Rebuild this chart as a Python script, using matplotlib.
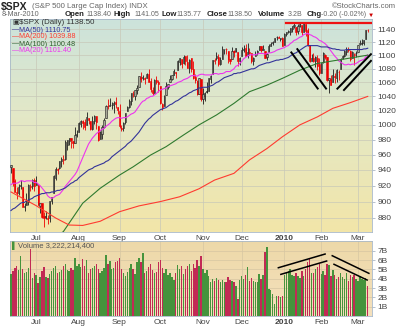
import numpy as np
import matplotlib
matplotlib.use("Agg")
import matplotlib.pyplot as plt
from matplotlib.ticker import FixedLocator, FixedFormatter, NullLocator

plt.rcParams['font.family'] = ['Liberation Sans', 'DejaVu Sans']

# daily sessions 12-Jun-2009 .. 8-Mar-2010
opens = [943.44, 942.45, 925.60, 911.90, 910.90, 919.96, 918.13, 893.46, 896.31, 899.45, 918.84, 919.86, 927.15,
         920.82, 921.24, 894.27, 898.60, 881.90, 881.28, 880.03, 879.57, 900.77, 910.15, 930.17, 940.56, 942.07, 951.97, 953.40, 954.07, 972.16, 978.63, 981.48, 977.66, 976.01, 986.80,
         990.22, 1001.41, 1005.41, 1004.06, 999.83, 1008.89, 1005.77, 994.00, 1005.86, 1012.23, 998.18, 980.62, 986.88, 996.41, 1009.06, 1026.59, 1026.63, 1027.35, 1027.81, 1031.62, 1025.21,
         1019.52, 996.07, 996.12, 1003.84, 1018.67, 1025.36, 1032.99, 1043.92, 1040.15, 1049.03, 1053.99, 1067.87, 1066.60, 1067.14, 1066.35, 1072.69, 1062.56, 1049.48, 1045.38, 1063.69, 1061.02,
         1054.91, 1029.71, 1026.87, 1042.02, 1053.65, 1060.03, 1065.28, 1071.63, 1074.96, 1078.68, 1090.36, 1094.67, 1088.22, 1098.64, 1090.36, 1080.96, 1095.62, 1080.36, 1067.54, 1061.51, 1043.69, 1065.41,
         1036.18, 1040.92, 1047.14, 1047.30, 1064.95, 1072.31, 1091.86, 1096.04, 1098.31, 1087.59, 1094.13, 1109.22, 1109.44, 1106.44, 1094.66, 1094.86, 1105.83, 1106.49, 1105.47, 1091.07,
         1098.89, 1109.03, 1110.59, 1100.43, 1105.52, 1103.04, 1091.07, 1098.69, 1103.96, 1107.84, 1114.11, 1108.61, 1106.36, 1097.86, 1105.31, 1114.51, 1118.84, 1121.08, 1127.53, 1128.55, 1125.53, 1126.60,
         1116.56, 1132.66, 1135.71, 1136.27, 1140.52, 1145.96, 1143.81, 1137.31, 1145.68, 1147.72, 1136.03, 1147.95, 1138.68, 1115.49, 1092.40, 1095.80, 1091.94, 1096.93, 1087.61,
         1073.89, 1090.05, 1100.67, 1097.25, 1064.12, 1065.51, 1060.06, 1069.68, 1067.10, 1075.95, 1079.13, 1096.14, 1099.03, 1105.49, 1110.00, 1107.49, 1095.89, 1101.24, 1103.10,
         1105.36, 1117.01, 1119.36, 1119.12, 1125.12, 1138.40]
highs = [946.30, 942.45, 928.00, 918.40, 922.00, 927.10, 918.13, 898.70, 910.85, 921.42, 922.00, 927.99, 930.01,
         931.92, 921.24, 898.72, 898.60, 886.80, 887.86, 883.57, 901.05, 905.84, 933.95, 943.96, 941.89, 951.62, 956.53, 959.83, 979.42, 979.79, 982.49, 982.35, 977.76, 996.68, 993.18,
         1003.61, 1007.12, 1006.64, 1008.00, 1018.00, 1010.12, 1005.77, 1012.78, 1013.14, 1012.60, 998.18, 991.20, 999.61, 1008.92, 1027.59, 1035.82, 1037.75, 1032.47, 1033.33, 1039.47, 1025.21,
         1028.45, 1000.34, 1003.43, 1016.48, 1026.07, 1036.34, 1044.14, 1048.18, 1049.74, 1056.04, 1068.76, 1074.77, 1071.52, 1067.28, 1073.81, 1080.15, 1066.29, 1053.47, 1065.13, 1069.62, 1063.40,
         1054.91, 1030.60, 1042.58, 1060.55, 1058.02, 1070.67, 1071.51, 1079.46, 1075.30, 1093.17, 1096.56, 1094.67, 1100.17, 1098.64, 1101.36, 1095.21, 1095.83, 1091.75, 1072.48, 1063.26, 1066.83, 1065.41,
         1052.18, 1046.36, 1061.00, 1066.65, 1071.48, 1093.19, 1096.42, 1105.37, 1101.97, 1097.79, 1113.69, 1110.52, 1111.10, 1106.44, 1094.66, 1112.38, 1107.56, 1111.18, 1105.47, 1097.24,
         1112.28, 1115.58, 1117.28, 1119.13, 1110.72, 1103.04, 1097.04, 1106.25, 1108.50, 1114.76, 1114.11, 1116.21, 1106.36, 1103.74, 1117.68, 1120.27, 1121.58, 1126.48, 1130.38, 1130.38, 1126.42, 1127.64,
         1133.87, 1136.63, 1139.19, 1142.46, 1145.39, 1149.74, 1143.81, 1148.40, 1150.41, 1147.77, 1150.45, 1147.95, 1141.58, 1115.49, 1102.97, 1103.69, 1099.51, 1100.22, 1096.45,
         1089.38, 1104.73, 1102.72, 1097.25, 1067.13, 1071.20, 1079.28, 1073.67, 1080.04, 1077.81, 1095.67, 1101.03, 1108.24, 1112.42, 1112.29, 1108.58, 1106.42, 1103.50, 1107.24,
         1116.11, 1123.46, 1125.64, 1123.73, 1139.38, 1141.05]
lows = [935.70, 919.65, 911.60, 903.80, 908.30, 915.80, 893.04, 888.90, 896.31, 896.27, 913.03, 916.18, 912.86,
        920.82, 896.42, 886.36, 879.93, 869.32, 878.45, 872.81, 875.32, 896.50, 910.15, 927.45, 934.65, 940.99, 943.22, 947.75, 953.27, 965.95, 972.29, 969.35, 968.65, 976.01, 982.85,
        990.22, 996.68, 994.31, 992.49, 999.83, 1000.99, 992.40, 993.36, 1000.82, 994.60, 978.51, 980.62, 980.62, 996.39, 1009.06, 1022.48, 1026.21, 1021.57, 1016.20, 1023.13, 1014.62,
        996.28, 991.97, 992.25, 1001.65, 1018.67, 1023.97, 1028.04, 1038.40, 1035.00, 1043.42, 1052.87, 1061.20, 1064.27, 1057.46, 1066.35, 1060.39, 1045.85, 1041.17, 1045.38, 1057.83, 1046.47,
        1029.45, 1019.95, 1025.92, 1042.02, 1050.10, 1060.03, 1063.00, 1071.63, 1066.71, 1078.68, 1086.41, 1081.53, 1086.48, 1086.16, 1080.77, 1074.31, 1075.49, 1065.23, 1059.32, 1042.19, 1043.69, 1033.38,
        1029.38, 1033.94, 1045.15, 1047.30, 1059.32, 1072.31, 1087.40, 1093.81, 1084.90, 1085.33, 1094.13, 1102.19, 1102.70, 1088.40, 1086.81, 1094.86, 1097.63, 1104.75, 1083.74, 1086.25,
        1098.89, 1105.29, 1098.74, 1096.52, 1100.83, 1088.61, 1085.89, 1098.69, 1101.34, 1107.84, 1105.35, 1107.96, 1095.88, 1093.88, 1105.31, 1114.51, 1116.00, 1121.08, 1123.51, 1126.08, 1121.94, 1114.81,
        1116.56, 1129.66, 1133.95, 1131.32, 1136.22, 1142.02, 1131.77, 1133.18, 1143.80, 1131.39, 1135.77, 1129.25, 1114.84, 1090.18, 1092.40, 1089.86, 1083.11, 1078.46, 1071.59,
        1073.89, 1087.96, 1093.97, 1062.78, 1044.50, 1056.51, 1060.06, 1059.34, 1060.59, 1062.97, 1079.13, 1094.72, 1097.48, 1100.80, 1105.38, 1092.18, 1095.50, 1086.02, 1097.56,
        1105.36, 1116.51, 1116.58, 1116.66, 1125.12, 1135.77]
closes = [946.21, 923.72, 911.97, 910.71, 918.37, 921.23, 893.04, 895.10, 900.94, 920.26, 918.90, 927.23, 919.32,
          923.33, 896.42, 898.72, 881.03, 879.56, 882.68, 879.13, 901.05, 905.84, 932.68, 940.74, 940.38, 951.13, 954.58, 954.07, 976.29, 979.26, 982.18, 979.62, 975.15, 986.75, 987.48,
          1002.63, 1005.65, 1002.72, 997.08, 1010.48, 1007.10, 994.35, 1005.81, 1012.73, 1004.09, 979.73, 989.67, 996.46, 1007.37, 1026.13, 1025.57, 1028.00, 1028.12, 1030.98, 1028.93, 1020.62,
          998.04, 994.75, 1003.24, 1016.40, 1025.39, 1033.37, 1044.14, 1042.73, 1049.34, 1052.63, 1068.76, 1065.49, 1068.30, 1064.66, 1071.66, 1060.87, 1050.78, 1044.38, 1062.98, 1060.61, 1057.08,
          1029.85, 1025.21, 1040.46, 1054.72, 1057.58, 1065.48, 1071.49, 1076.19, 1073.19, 1092.02, 1096.56, 1087.68, 1097.91, 1091.06, 1081.40, 1092.91, 1079.60, 1066.95, 1063.41, 1042.63, 1066.11, 1036.19,
          1042.88, 1045.41, 1046.50, 1066.63, 1069.30, 1093.08, 1093.01, 1098.51, 1087.24, 1093.48, 1109.30, 1110.32, 1109.80, 1094.90, 1091.38, 1106.24, 1105.65, 1110.63, 1091.49, 1095.63,
          1108.86, 1109.24, 1099.92, 1105.98, 1103.25, 1091.94, 1095.95, 1102.35, 1106.41, 1114.11, 1107.93, 1109.18, 1096.08, 1102.47, 1114.05, 1118.02, 1120.59, 1126.48, 1127.78, 1126.20, 1126.42, 1115.10,
          1132.99, 1136.52, 1137.14, 1141.69, 1144.98, 1146.98, 1136.22, 1145.68, 1148.46, 1136.03, 1150.23, 1138.04, 1116.48, 1091.76, 1096.78, 1092.17, 1097.50, 1084.53, 1073.87,
          1089.19, 1103.32, 1097.28, 1063.11, 1066.19, 1056.74, 1070.52, 1068.13, 1078.47, 1075.51, 1094.87, 1099.51, 1106.75, 1109.17, 1108.01, 1094.60, 1105.24, 1102.94, 1104.49,
          1115.71, 1118.31, 1118.79, 1122.97, 1138.70, 1138.50]
prior_close = 944.89
# volume, billions of shares
volumes = [4.5, 4.8, 5.2, 5.4, 4.9, 6.4, 5.0, 4.6, 4.7, 5.2, 7.2, 4.1, 4.6,
           4.4, 3.5, 4.2, 4.8, 5.3, 4.2, 4.1, 4.5, 4.8, 5.2, 5.4, 4.6, 4.7, 4.9, 5.4, 5.6, 4.9, 4.8, 5.1, 4.9, 6.2, 5.4,
           5.6, 5.3, 6.1, 5.4, 6.0, 4.6, 5.0, 5.2, 5.4, 5.6, 5.0, 4.6, 4.8, 5.2, 6.6, 5.6, 5.9, 5.0, 5.2, 5.8, 5.9,
           6.2, 5.0, 4.6, 4.3, 4.7, 5.2, 5.6, 5.0, 4.5, 5.8, 6.2, 5.8, 6.8, 4.6, 4.8, 5.3, 5.6, 4.9, 4.6, 4.7, 5.8,
           6.0, 5.1, 4.6, 5.0, 4.4, 4.6, 4.2, 3.9, 4.6, 5.5, 5.0, 5.4, 4.5, 5.0, 5.4, 5.6, 4.8, 5.6, 5.2, 6.0, 5.4, 6.4,
           5.0, 4.6, 4.9, 4.3, 3.7, 4.0, 3.8, 4.1, 3.9, 3.7, 3.9, 3.6, 3.7, 4.2, 3.9, 3.8, 3.6, 3.2, 1.8, 3.9,
           4.3, 4.0, 4.4, 5.3, 3.8, 4.1, 3.8, 3.7, 3.6, 4.5, 4.0, 4.4, 6.9, 7.4, 2.9, 2.8, 2.4, 1.3, 2.1, 2.2, 2.0, 2.1,
           4.4, 4.7, 4.8, 5.0, 4.4, 4.3, 4.6, 4.3, 4.1, 4.8, 4.3, 5.0, 5.8, 6.2, 4.6, 4.6, 5.0, 5.3, 5.6,
           4.5, 4.8, 4.4, 5.6, 5.5, 4.3, 4.9, 4.4, 4.0, 4.2, 4.6, 4.2, 4.0, 4.6, 3.8, 4.4, 4.2, 4.4, 4.0,
           3.8, 4.3, 4.0, 3.9, 4.1, 3.2]

ma20 = [921, 923, 923, 923, 924, 926, 926, 925, 926, 926, 926, 926, 924, 924, 922, 920, 917, 914, 911, 907, 905, 904, 905, 907, 908, 909, 912, 915, 919, 922, 925, 928, 931, 934, 938,
        944, 950, 956, 962, 968, 974, 978, 982, 985, 988, 990, 992, 994, 995, 998, 1000, 1002, 1005, 1007, 1009, 1010, 1010, 1009, 1010, 1010, 1011, 1013, 1015, 1016, 1018, 1022, 1026,
        1030, 1033, 1034, 1037, 1038, 1040, 1040, 1042, 1044, 1047, 1049, 1050, 1051, 1052, 1054, 1055, 1056, 1057, 1058, 1060, 1061, 1062, 1064, 1065, 1066, 1068, 1070, 1070, 1070, 1069,
        1071, 1072, 1072, 1071, 1071, 1071, 1071, 1072, 1073, 1073, 1072, 1073, 1073, 1074, 1076, 1076, 1076, 1078, 1080, 1084, 1085, 1088, 1091, 1095, 1097, 1099, 1101, 1101, 1101, 1101,
        1102, 1103, 1103, 1103, 1102, 1103, 1104, 1104, 1105, 1106, 1108, 1109, 1110, 1111, 1112, 1114, 1115, 1118, 1120, 1123, 1124, 1126, 1128, 1129, 1132, 1133, 1134, 1132, 1131, 1129,
        1128, 1126, 1123, 1122, 1120, 1118, 1115, 1111, 1107, 1103, 1099, 1096, 1092, 1090, 1088, 1086, 1086, 1087, 1086, 1087, 1087, 1088, 1090, 1092, 1093, 1094, 1098, 1101]
ma50 = [889, 891, 892, 894, 896, 898, 899, 899, 901, 902, 903, 904, 906, 907, 908, 909, 910, 910, 911, 911, 911, 912, 912, 913, 914, 914, 915, 916, 917, 919, 921, 923, 924, 926, 927,
        930, 932, 934, 936, 938, 940, 941, 942, 944, 945, 946, 947, 948, 949, 951, 952, 954, 957, 959, 961, 963, 965, 967, 969, 971, 974, 976, 978, 981, 984, 987, 990, 994, 998, 1002,
        1005, 1008, 1010, 1013, 1015, 1017, 1019, 1021, 1022, 1023, 1024, 1026, 1028, 1029, 1031, 1033, 1034, 1036, 1038, 1040, 1041, 1043, 1045, 1046, 1048, 1049, 1050, 1052, 1052, 1053,
        1053, 1053, 1054, 1055, 1056, 1058, 1060, 1061, 1063, 1065, 1067, 1068, 1069, 1070, 1071, 1073, 1073, 1074, 1074, 1075, 1076, 1077, 1078, 1079, 1080, 1080, 1081, 1083, 1085, 1086,
        1087, 1088, 1089, 1089, 1090, 1091, 1092, 1093, 1093, 1094, 1094, 1095, 1096, 1097, 1099, 1101, 1103, 1104, 1106, 1108, 1110, 1112, 1114, 1115, 1115, 1115, 1115, 1115, 1115, 1114,
        1113, 1113, 1113, 1113, 1112, 1111, 1110, 1110, 1109, 1109, 1108, 1108, 1108, 1109, 1109, 1109, 1109, 1109, 1109, 1109, 1109, 1109, 1110, 1110, 1111]
ma200_days = [0, 13, 23, 30, 37, 46, 56, 66, 77, 87, 97, 105, 115, 123, 132, 140, 149, 158, 166, 175, 184]
ma200_vals = [912, 895, 880, 871.5, 871, 876, 887.6, 894.7, 900, 906, 916, 927, 935.6, 953, 968, 983.8, 1000, 1011, 1023, 1031, 1039.88]
ma100_days = [0, 13, 27, 37, 46, 56, 63, 72, 80, 89, 97, 106, 115, 123, 132, 140, 149, 158, 184]
ma100_vals = [826, 843, 863.6, 898, 916.6, 933.4, 944, 959.4, 970.5, 986.2, 1000, 1013.7, 1030, 1046.6, 1056, 1066, 1078, 1088, 1100.48]

month_labels = ["Jul", "Aug", "Sep", "Oct", "Nov", "Dec", "2010", "Feb", "Mar"]
month_starts = [13, 35, 56, 77, 99, 119, 141, 160, 179]
price_ticks = [880, 900, 920, 940, 960, 980, 1000, 1020, 1040, 1060, 1080, 1100, 1120, 1140]
vol_ticks = [1, 2, 3, 4, 5, 6, 7]
vol_tick_labels = ["1B", "2B", "3B", "4B", "5B", "6B", "7B"]

# hand-drawn trend lines, (session, value) end points
price_lines = [((144.3, 1105.8), (158.5, 1050.0)), ((147.4, 1110.8), (162.8, 1050.0)),
               ((168.0, 1050.0), (186.0, 1103.0)), ((171.4, 1048.0), (186.0, 1093.0))]
resistance = ((141.8, 1150.4), (186.2, 1150.4))
vol_lines = [((137.9, 5.18), (162.0, 6.65)), ((139.2, 4.47), (162.8, 5.9)),
             ((165.7, 6.47), (184.6, 4.58)), ((166.6, 5.55), (183.7, 3.86))]

W, H = 400, 327


def fx(x):
    return x / W


def fy(y):
    return 1 - y / H


fig = plt.figure(figsize=(4.0, 3.27), dpi=100)
fig.patch.set_facecolor('white')

price_rect = [fx(10), fy(232), 362 / W, 213 / H]
vol_rect = [fx(10), fy(316), 362 / W, 75 / H]


def gradient(rect, stops):
    b = fig.add_axes(rect, zorder=0)
    t = np.linspace(0, 1, 200)
    pos = [s[0] for s in stops]
    img = np.stack([np.interp(t, pos, [s[1][k] for s in stops]) for k in range(3)], axis=1)
    b.imshow(img[:, None, :], aspect='auto', extent=(0, 1, 0, 1))
    b.set_axis_off()


gradient(price_rect, [(0.0, (0.80, 0.89, 0.86)), (0.45, (0.89, 0.91, 0.78)), (1.0, (0.95, 0.90, 0.66))])
gradient(vol_rect, [(0.0, (0.93, 0.85, 0.66)), (1.0, (0.96, 0.88, 0.74))])

ax = fig.add_axes(price_rect, zorder=1)
ax.patch.set_alpha(0)
axv = fig.add_axes(vol_rect, zorder=1)
axv.patch.set_alpha(0)

n = len(closes)
x = np.arange(n)
o = np.array(opens)
c = np.array(closes)
prev = np.array([prior_close] + closes[:-1])
up = c >= prev
edge = np.where(up, '#1a1a1a', '#ee0000')
face = np.where(c >= o, '#a8a898', edge)

ax.vlines(x, lows, highs, colors=edge, lw=0.6, zorder=3)
ax.bar(x, np.maximum(np.abs(c - o), 0.5), bottom=np.minimum(o, c), width=0.62,
       color=face, edgecolor=edge, linewidth=0.4, zorder=4)

ax.plot(x, ma20, color='#ee33ee', lw=0.8, zorder=5)
ax.plot(x, ma50, color='#333399', lw=0.8, zorder=5)
ax.plot(ma100_days, ma100_vals, color='#2f7a2f', lw=0.8, zorder=5)
ax.plot(ma200_days, ma200_vals, color='#ff3b30', lw=0.8, zorder=5)

ax.set_yscale('log')
ax.set_ylim(863.2, 1156.5)
ax.set_xlim(-0.5, 186.2)
ax.yaxis.set_major_locator(FixedLocator(price_ticks))
ax.yaxis.set_major_formatter(FixedFormatter([str(v) for v in price_ticks]))
ax.yaxis.set_minor_locator(NullLocator())
ax.yaxis.tick_right()
ax.set_xticks(month_starts)
ax.set_xticklabels(month_labels)
ax.grid(True, color='#c8c8b8', lw=0.5, zorder=1)

axv.bar(x, volumes, width=0.72, color=np.where(up, '#45933c', '#c22a55'), linewidth=0, zorder=3)
axv.set_ylim(0, 8.05)
axv.set_xlim(-0.5, 186.2)
axv.set_yticks(vol_ticks)
axv.set_yticklabels(vol_tick_labels)
axv.yaxis.tick_right()
axv.set_xticks(month_starts)
axv.set_xticklabels(month_labels)
axv.grid(True, color='#d6c6a2', lw=0.5, zorder=1)

for a in (ax, axv):
    a.tick_params(axis='both', labelsize=6, length=2, width=0.5, color='#9aa8b8', labelcolor='#444444', pad=2)
    a.tick_params(axis='x', length=0)
    for s in a.spines.values():
        s.set_color('#a8b8c8')
        s.set_linewidth(0.6)
    a.get_xticklabels()[6].set_fontweight('bold')

for (x0, y0), (x1, y1) in price_lines:
    ax.plot([x0, x1], [y0, y1], color='black', lw=1.4, zorder=6, solid_capstyle='butt')
ax.plot([resistance[0][0], resistance[1][0]], [resistance[0][1], resistance[1][1]], color='#ee1111', lw=1.6, zorder=6)
for (x0, y0), (x1, y1) in vol_lines:
    axv.plot([x0, x1], [y0, y1], color='black', lw=1.1, zorder=6)

# header
fig.text(fx(1), fy(7), "$SPX", fontsize=7.5, fontweight='bold', color='#222222', va='center')
fig.text(fx(32), fy(7), "(S&P 500 Large Cap Index) INDX", fontsize=5.6, color='#666666', va='center')
fig.text(fx(396), fy(6), "\u00a9StockCharts.com", fontsize=5.5, color='#666666', va='center', ha='right')
fig.text(fx(2), fy(15), "8-Mar-2010", fontsize=5.2, color='#666666', va='center')
row = [(65, "Open", 86, "1138.40"), (114, "High", 134, "1141.05"), (161, "Low", 176, "1135.77"),
       (207, "Close", 227, "1138.50"), (258, "Volume", 288, "3.2B"), (307, "Chg", 321, "-0.20 (-0.02%)")]
for lx, lab, vx, val in row:
    fig.text(fx(lx), fy(15), lab, fontsize=5.6, fontweight='bold', color='#222222', va='center')
    fig.text(fx(vx), fy(15), val, fontsize=5.0, color='#666666', va='center')
fig.text(fx(368), fy(15), "\u25bc", fontsize=4.5, color='#cc0000', va='center')

legend = [("$SPX (Daily) 1138.50", '#333333'), ("MA(50) 1110.75", '#333399'),
          ("MA(200) 1039.88", '#ff3b30'), ("MA(100) 1100.48", '#2f5f2f'), ("MA(20) 1101.40", '#ee33ee')]
for i, (txt, col) in enumerate(legend):
    yy = 23 + i * 7
    if i == 0:
        fig.text(fx(12), fy(yy), "\u25a3", fontsize=5, color='#333333', va='center')
        fig.text(fx(19), fy(yy), txt, fontsize=5.7, color='#333333', va='center')
    else:
        fig.text(fx(12), fy(yy), "\u2014", fontsize=5, color=col, va='center')
        fig.text(fx(19), fy(yy), txt, fontsize=5.2, color=col, va='center')
fig.text(fx(12), fy(246), "\u258c", fontsize=5, color='#45933c', va='center')
fig.text(fx(18), fy(246), "Volume 3,222,214,400", fontsize=5.5, color='#555555', va='center')

fig.savefig('out.png', dpi=100)
